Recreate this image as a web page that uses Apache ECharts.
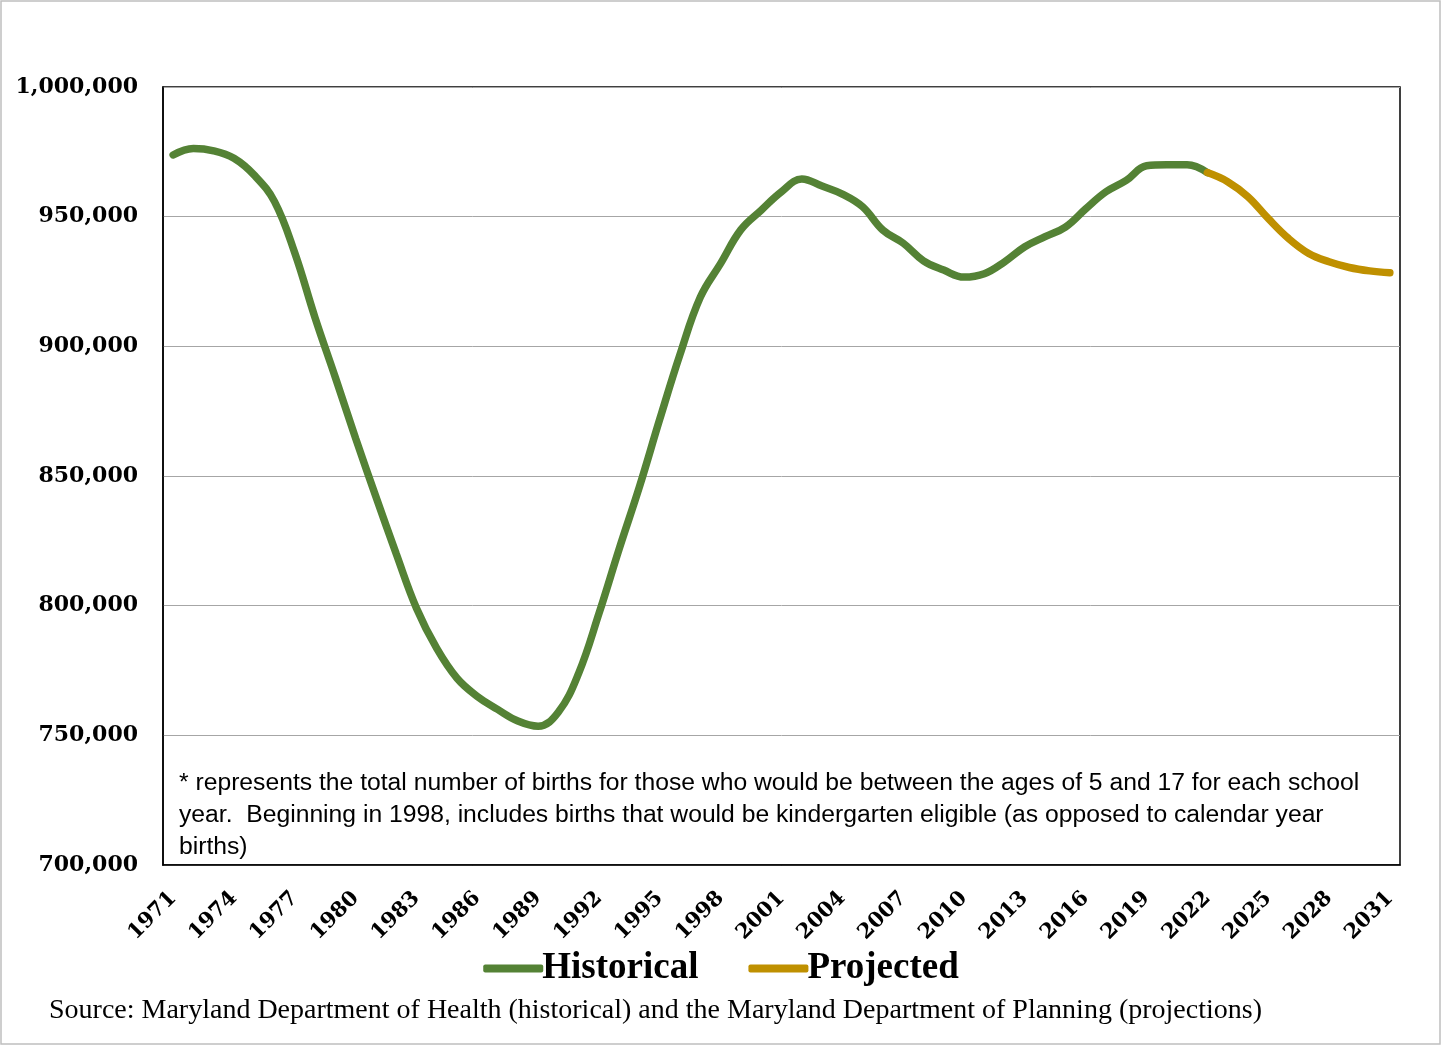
<!DOCTYPE html>
<html>
<head>
<meta charset="utf-8">
<title>Births</title>
<script src="https://cdn.jsdelivr.net/npm/echarts@6/dist/echarts.min.js"></script>
<style>
  html, body { margin: 0; padding: 0; background: #fff; }
  #chart { width: 1442px; height: 1046px; }
</style>
</head>
<body>
<div id="chart"></div>
<script>
// years 1971 - 2031
const years = []
for (let y = 1971; y <= 2031; y++) years.push(String(y))

// historical 1971 - 2022
const historical = [
  973800, 976300, 975400, 972500, 966000, 955800, 936000, 911000, 888000, 864500,
  842000, 820000, 799000, 783500, 772000, 765000, 760000, 755500, 753500, 759000,
  774000, 797000, 822000, 846000, 872000, 897000, 919000, 932000, 945000, 952500,
  959600, 964500, 961800, 958700, 953800, 944800, 939800, 933000, 929400, 926700,
  928000, 932600, 938400, 942300, 946000, 953000, 959600, 964000, 969600, 970000,
  970000, 967000
]

// projected 2022 - 2031
const projected = [
  967000, 963500, 957700, 949300, 941600, 935800, 932600, 930400, 929100, 928400
]

const yTicks = [700000, 750000, 800000, 850000, 900000, 950000, 1000000]

const note = [
  '* represents the total number of births for those who would be between the ages of 5 and 17 for each school',
  'year.  Beginning in 1998, includes births that would be kindergarten eligible (as opposed to calendar year',
  'births)'
]

// pad series so both share the same category axis
const histData = years.map((y, i) => (i < historical.length ? historical[i] : null))
const projStart = historical.length - 1
const projData = years.map((y, i) => (i >= projStart && i - projStart < projected.length ? projected[i - projStart] : null))

const chart = echarts.init(document.getElementById('chart'))

chart.setOption({
  animation: false,
  grid: {
    left: 163,
    right: 42,
    top: 87,
    bottom: 181,
    show: true,
    borderColor: '#000',
    borderWidth: 1.5
  },
  legend: {
    data: ['Historical', 'Projected'],
    left: 'center',
    top: 945,
    icon: 'roundRect',
    itemWidth: 60,
    itemHeight: 8,
    itemGap: 50,
    textStyle: {
      fontFamily: 'Liberation Serif',
      fontWeight: 'bold',
      fontSize: 37,
      color: '#000',
      padding: [0, 0, 0, -6]
    }
  },
  xAxis: {
    type: 'category',
    data: years,
    boundaryGap: true,
    axisLine: { lineStyle: { color: '#000', width: 1.5 } },
    axisTick: { show: false },
    axisLabel: {
      interval: 2,
      rotate: 45,
      margin: 30,
      fontFamily: 'DejaVu Serif',
      fontWeight: 'bold',
      fontSize: 21,
      color: '#000'
    }
  },
  yAxis: {
    type: 'value',
    min: yTicks[0],
    max: yTicks[yTicks.length - 1],
    interval: 50000,
    axisLine: { show: true, lineStyle: { color: '#000', width: 1.5 } },
    axisTick: { show: false },
    splitLine: { lineStyle: { color: '#a6a6a6', width: 1 } },
    axisLabel: {
      margin: 25,
      fontFamily: 'DejaVu Serif',
      fontWeight: 'bold',
      fontSize: 22,
      color: '#000',
      padding: [4, 0, 0, 0],
      formatter: v => v.toLocaleString('en-US')
    }
  },
  series: [
    {
      name: 'Historical',
      type: 'line',
      data: histData,
      smooth: 0.4,
      showSymbol: false,
      symbol: 'none',
      lineStyle: { color: '#548235', width: 7.5, cap: 'round' },
      itemStyle: { color: '#548235' },
      z: 3
    },
    {
      name: 'Projected',
      type: 'line',
      data: projData,
      smooth: 0.4,
      showSymbol: false,
      symbol: 'none',
      lineStyle: { color: '#bf9000', width: 7.5, cap: 'round' },
      itemStyle: { color: '#bf9000' },
      z: 4
    }
  ],
  graphic: [
    // outer frame
    {
      type: 'rect',
      shape: { x: 1, y: 1, width: 1439, height: 1043 },
      style: { fill: 'none', stroke: '#bfbfbf', lineWidth: 1.5 },
      silent: true
    },
    {
      type: 'text',
      left: 179,
      top: 767,
      style: {
        text: note.join('\n'),
        fontFamily: 'Liberation Sans',
        fontSize: 24.7,
        lineHeight: 32,
        fill: '#000'
      }
    },
    {
      type: 'text',
      left: 49,
      top: 997,
      style: {
        text: 'Source: Maryland Department of Health (historical) and the Maryland Department of Planning (projections)',
        fontFamily: 'Liberation Serif',
        fontSize: 28,
        fill: '#000'
      }
    }
  ]
})
</script>
</body>
</html>
